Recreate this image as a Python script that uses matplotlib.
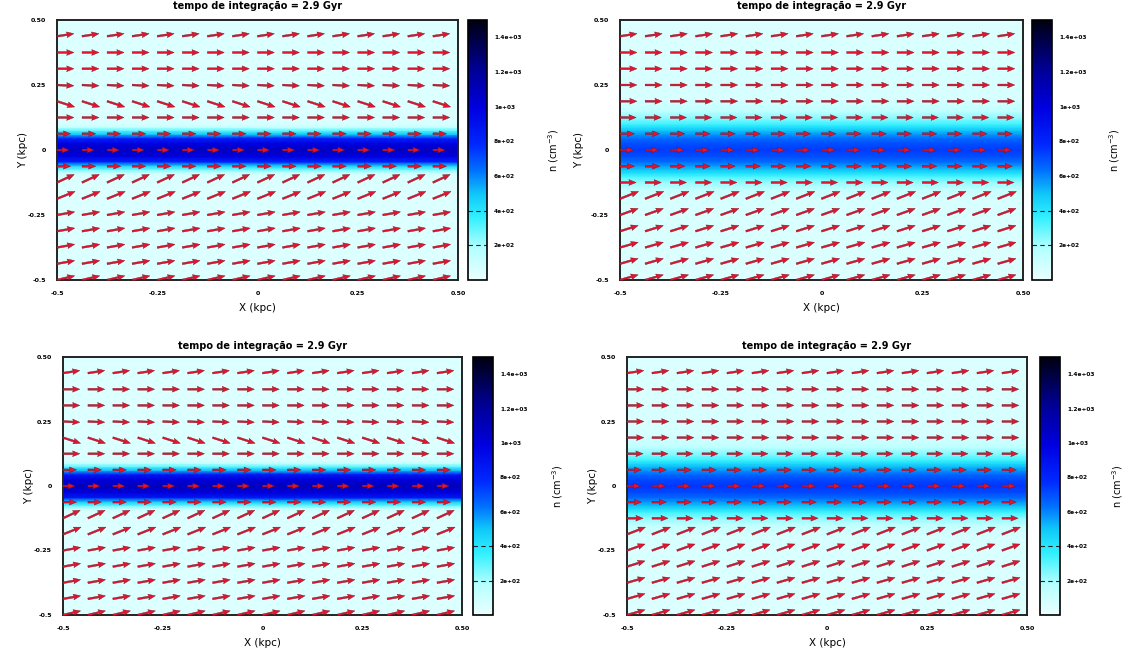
import numpy as np
import matplotlib
matplotlib.use("Agg")
import matplotlib.pyplot as plt
from matplotlib.colors import LinearSegmentedColormap

W, H = 1126, 660

# density profile n(y) across the slab, uniform in x (cm^-3)
y_prof = [-0.5, -0.2, -0.15, -0.12, -0.1, -0.088, -0.075, -0.06, -0.045, -0.025, 0.0,
          0.025, 0.045, 0.06, 0.075, 0.088, 0.1, 0.12, 0.15, 0.2, 0.5]
n_thin = [50, 50, 50, 55, 60, 110, 280, 480, 820, 980, 1080,
          980, 820, 500, 300, 130, 70, 55, 50, 50, 50]
n_wide = [50, 60, 130, 240, 340, 420, 500, 570, 640, 700, 740,
          700, 640, 570, 500, 420, 340, 250, 140, 70, 50]
n_thin2 = [50, 50, 50, 55, 60, 120, 300, 500, 850, 1000, 1100,
           1000, 850, 520, 310, 140, 70, 55, 50, 50, 50]
n_wide2 = [50, 60, 140, 250, 350, 430, 510, 580, 650, 710, 750,
           710, 650, 580, 510, 430, 350, 260, 150, 70, 50]

# vector field: 16x16 grid, each row has the same vector (kpc)
x_grid = [-0.5 + i * 0.0625 for i in range(16)]
y_grid = [-0.5 + j * 0.0625 for j in range(16)]
dx_thin = [0.044, 0.044, 0.044, 0.044, 0.044, 0.045, 0.043, 0.034, 0.030,
           0.034, 0.042, 0.044, 0.042, 0.042, 0.042, 0.042]
dy_thin = [0.016, 0.012, 0.012, 0.012, 0.012, 0.028, 0.031, 0.0, 0.0,
           0.0, 0.0, -0.022, -0.003, 0.0, 0.0, 0.010]
dx_wide = [0.045, 0.045, 0.045, 0.045, 0.045, 0.046, 0.040, 0.036, 0.034,
           0.036, 0.040, 0.042, 0.042, 0.042, 0.042, 0.042]
dy_wide = [0.020, 0.020, 0.020, 0.022, 0.025, 0.028, 0.0, 0.0, 0.0,
           0.0, 0.0, 0.0, 0.0, 0.0, 0.0, 0.010]

panels = [
    dict(rect=(57, 20, 458, 280), cb=(468, 20, 487, 280), n=n_thin, dx=dx_thin, dy=dy_thin,
         ylab=-0.072, cblab=4.1, tpad=8),
    dict(rect=(620, 20, 1023, 280), cb=(1032, 20, 1052, 280), n=n_wide, dx=dx_wide, dy=dy_wide,
         ylab=-0.09, cblab=3.75, tpad=8),
    dict(rect=(63, 357, 462, 615), cb=(473, 357, 493, 615), n=n_thin2, dx=dx_thin, dy=dy_thin,
         ylab=-0.073, cblab=3.85, tpad=6),
    dict(rect=(627, 357, 1027, 615), cb=(1040, 357, 1060, 615), n=n_wide2, dx=dx_wide, dy=dy_wide,
         ylab=-0.072, cblab=3.5, tpad=6),
]

cb_ticks = [200, 400, 600, 800, 1000, 1200, 1400]
cb_grid = [200, 400]

cmap = LinearSegmentedColormap.from_list("gp", [
    (0.0, "#eaffff"), (0.12, "#b4ffff"), (0.24, "#30f0ff"), (0.33, "#10c8f8"),
    (0.42, "#0070ff"), (0.52, "#0028ff"), (0.66, "#0000e0"), (0.82, "#000090"),
    (1.0, "#000010")])


def px(x0, y0, x1, y1):
    return [x0 / W, 1 - y1 / H, (x1 - x0) / W, (y1 - y0) / H]


fig = plt.figure(figsize=(W / 100, H / 100), dpi=100)

for p in panels:
    ax = fig.add_axes(px(*p["rect"]))
    X, Y = np.meshgrid([-0.5, 0.5], y_prof)
    C = np.tile(np.array(p["n"], dtype=float)[:, None], (1, 2))
    mesh = ax.pcolormesh(X, Y, C, shading="gouraud", cmap=cmap, vmin=0, vmax=1500)

    XX, YY = np.meshgrid(x_grid, y_grid)
    U = np.tile(np.array(p["dx"])[:, None], (1, len(x_grid)))
    V = np.tile(np.array(p["dy"])[:, None], (1, len(x_grid)))
    ax.quiver(XX, YY, U, V, angles="xy", scale_units="xy", scale=1, color="#e2142e",
              width=0.0045, headwidth=3.2, headlength=4, headaxislength=3.6,
              edgecolor="#7a1020", linewidth=0.3, zorder=3, clip_on=False)

    ax.set_xlim(-0.5, 0.5)
    ax.set_ylim(-0.5, 0.5)
    ax.set_xticks([-0.5, -0.25, 0, 0.25, 0.5])
    ax.set_xticklabels(["-0.5", "-0.25", "0", "0.25", "0.50"])
    ax.set_yticks([-0.5, -0.25, 0, 0.25, 0.5])
    ax.set_yticklabels(["-0.5", "-0.25", "0", "0.25", "0.50"])
    ax.tick_params(length=0, pad=8, labelsize=4.5)
    for lab in ax.get_xticklabels() + ax.get_yticklabels():
        lab.set_fontweight("bold")
    for s in ax.spines.values():
        s.set_linewidth(1.4)
        s.set_color("#222222")

    ax.set_title("tempo de integração = 2.9 Gyr", fontsize=7, fontweight="bold", pad=p["tpad"])
    ax.set_xlabel("X (kpc)", fontsize=7.5)
    ax.xaxis.set_label_coords(0.5, -0.09)
    ax.set_ylabel("Y (kpc)", fontsize=7.5)
    ax.yaxis.set_label_coords(p["ylab"], 0.5)

    cax = fig.add_axes(px(*p["cb"]))
    cb = fig.colorbar(mesh, cax=cax, ticks=cb_ticks)
    cb.set_ticklabels([f"{t:.2g}" for t in cb_ticks])
    cax.tick_params(length=0, pad=5, labelsize=4.2)
    for lab in cax.get_yticklabels():
        lab.set_fontweight("bold")
    cax.hlines(cb_grid, 0, 1, transform=cax.get_yaxis_transform(), colors="#222222",
               linestyles=(0, (4, 3)), linewidth=0.8)
    cb.outline.set_linewidth(1.2)
    cb.set_label("n (cm$^{-3}$)", fontsize=7)
    cax.yaxis.set_label_coords(p["cblab"], 0.5)

fig.savefig("out.png", dpi=100)
